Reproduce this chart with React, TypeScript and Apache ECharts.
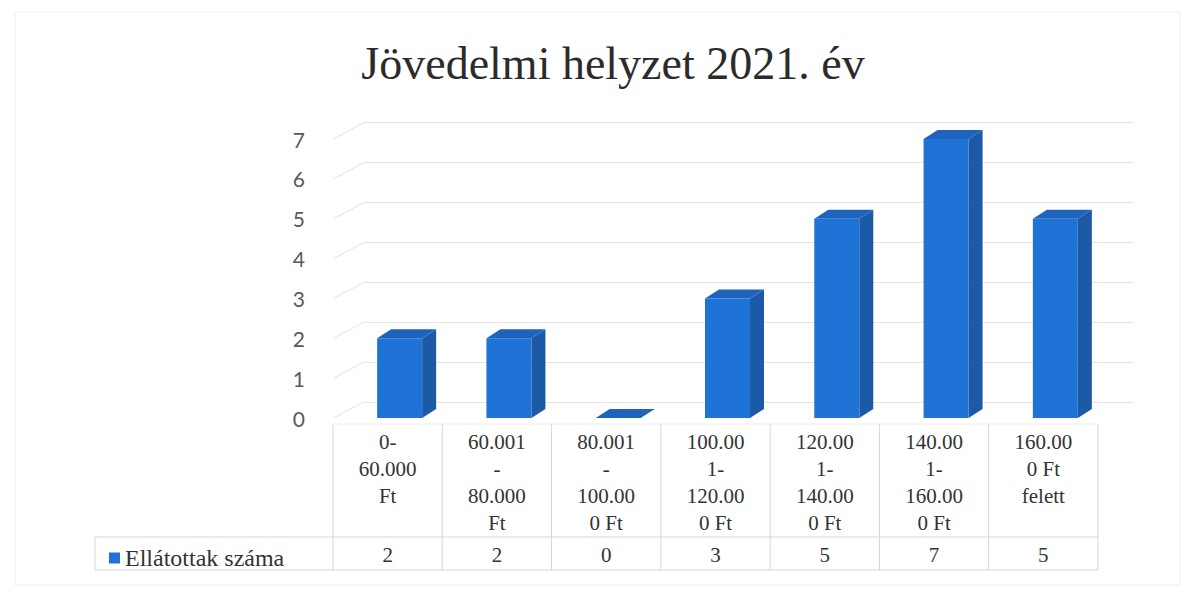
import React, { useEffect, useRef } from "react";
import * as echarts from "echarts";

const title = "Jövedelmi helyzet 2021. év";
const seriesName = "Ellátottak száma";
const categories = [
  "0-\n60.000\nFt",
  "60.001\n-\n80.000\nFt",
  "80.001\n-\n100.00\n0 Ft",
  "100.00\n1-\n120.00\n0 Ft",
  "120.00\n1-\n140.00\n0 Ft",
  "140.00\n1-\n160.00\n0 Ft",
  "160.00\n0 Ft\nfelett",
];
const values = [2, 2, 0, 3, 5, 7, 5];
const yTicks = [0, 1, 2, 3, 4, 5, 6, 7];

const FRONT = "#1F72D6";
const SIDE = "#1C5AA8";
const TOP = "#1F63BC";
const GRID = "#e3e3e3";
const TABLE = "#d6d6d6";
const SERIF = "'Liberation Serif', 'Times New Roman', serif";

export default function App() {
  const ref = useRef<HTMLDivElement>(null);
  useEffect(() => {
    document.body.style.margin = "0";
    const chart = echarts.init(ref.current!, undefined, { renderer: "svg" });
    const colLeft = 333;
    const colRight = 1098;
    const colW = (colRight - colLeft) / categories.length;
    const tableLines: any[] = [];
    for (let i = 0; i <= categories.length; i++) {
      const x = colLeft + colW * i;
      tableLines.push({
        type: "line",
        shape: { x1: x, y1: 424, x2: x, y2: 570 },
        style: { stroke: TABLE, lineWidth: 1 },
        silent: true,
      });
    }
    tableLines.push(
      { type: "line", shape: { x1: 95, y1: 537, x2: colRight, y2: 537 }, style: { stroke: TABLE, lineWidth: 1 }, silent: true },
      { type: "line", shape: { x1: 95, y1: 570, x2: colRight, y2: 570 }, style: { stroke: TABLE, lineWidth: 1 }, silent: true },
      { type: "line", shape: { x1: 95, y1: 537, x2: 95, y2: 570 }, style: { stroke: TABLE, lineWidth: 1 }, silent: true },
      { type: "line", shape: { x1: colLeft, y1: 424, x2: colRight, y2: 424 }, style: { stroke: "#ececec", lineWidth: 1 }, silent: true },
      { type: "rect", shape: { x: 15, y: 12, width: 1165, height: 573 }, style: { fill: "none", stroke: "#eeeeee", lineWidth: 1 }, silent: true }
    );

    chart.setOption({
      animation: false,
      backgroundColor: "#ffffff",
      title: {
        text: title,
        left: 608,
        top: 35,
        textAlign: "center",
        textStyle: { fontFamily: SERIF, fontSize: 46, fontWeight: "normal", color: "#2b2b2b" },
      },
      legend: {
        data: [seriesName],
        left: 104,
        top: 541,
        icon: "rect",
        itemWidth: 11,
        itemHeight: 11,
        itemGap: 5,
        textStyle: { fontFamily: SERIF, fontSize: 24, color: "#333333" },
      },
      grid: [
        { left: 345, right: 83, top: 139, height: 279 },
        { left: 363, right: 60, top: 122, height: 280 },
        { left: colLeft, right: 1193 - colRight, top: 400, height: 25 },
        { left: colLeft, right: 1193 - colRight, top: 530, height: 8 },
      ],
      xAxis: [
        { type: "category", gridIndex: 0, data: categories, show: false },
        { type: "category", gridIndex: 1, data: categories, show: false },
        {
          type: "category",
          gridIndex: 2,
          data: categories,
          axisLine: { show: false },
          axisTick: { show: false },
          axisLabel: {
            interval: 0,
            margin: 3,
            fontFamily: SERIF,
            fontSize: 21,
            lineHeight: 27,
            color: "#333333",
            verticalAlign: "top",
          },
        },
        {
          type: "category",
          gridIndex: 3,
          data: values.map(String),
          axisLine: { show: false },
          axisTick: { show: false },
          axisLabel: {
            interval: 0,
            margin: 6,
            fontFamily: SERIF,
            fontSize: 21,
            color: "#333333",
            verticalAlign: "top",
          },
        },
      ],
      yAxis: [
        {
          type: "value",
          gridIndex: 0,
          min: 0,
          max: 7,
          interval: 1,
          axisLine: { show: false },
          axisTick: { show: false },
          splitLine: { show: false },
          axisLabel: { margin: 40, fontFamily: "Lato, 'Open Sans', sans-serif", fontSize: 21, color: "#595959" },
        },
        {
          type: "value",
          gridIndex: 1,
          min: 0,
          max: 7,
          interval: 1,
          axisLine: { show: false },
          axisTick: { show: false },
          axisLabel: { show: false },
          splitLine: { show: true, lineStyle: { color: GRID, width: 1 } },
        },
        { type: "value", gridIndex: 2, show: false },
        { type: "value", gridIndex: 3, show: false },
      ],
      series: [
        {
          type: "custom",
          name: "sideWall",
          xAxisIndex: 0,
          yAxisIndex: 0,
          silent: true,
          data: yTicks.map((v) => [0, v]),
          encode: { x: 0, y: 1 },
          renderItem: (params: any, api: any) => {
            const p = api.coord([0, api.value(1)]);
            const xs = p[0] - 66;
            return {
              type: "line",
              shape: { x1: xs, y1: p[1], x2: xs + 30, y2: p[1] - 16 },
              style: { stroke: GRID, lineWidth: 1 },
            };
          },
        },
        {
          type: "custom",
          name: seriesName,
          xAxisIndex: 0,
          yAxisIndex: 0,
          itemStyle: { color: FRONT },
          data: values.map((v, i) => [i, v]),
          encode: { x: 0, y: 1 },
          renderItem: (params: any, api: any) => {
            const idx = api.value(0);
            const v = api.value(1);
            const top = api.coord([idx, v]);
            const bot = api.coord([idx, 0]);
            const w = 45;
            const dx = 14;
            const dy = 9;
            const x0 = top[0] - w / 2;
            const x1 = top[0] + w / 2;
            const yT = top[1];
            const yB = bot[1];
            return {
              type: "group",
              children: [
                {
                  type: "polygon",
                  shape: { points: [[x1, yT], [x1 + dx, yT - dy], [x1 + dx, yB - dy], [x1, yB]] },
                  style: { fill: SIDE },
                },
                {
                  type: "polygon",
                  shape: { points: [[x0, yT], [x0 + dx, yT - dy], [x1 + dx, yT - dy], [x1, yT]] },
                  style: { fill: TOP },
                },
                {
                  type: "rect",
                  shape: { x: x0, y: yT, width: w, height: yB - yT },
                  style: { fill: FRONT },
                },
              ],
            };
          },
        },
      ],
      graphic: tableLines,
    });
    return () => chart.dispose();
  }, []);
  return <div ref={ref} style={{ width: 1193, height: 591 }} />;
}
